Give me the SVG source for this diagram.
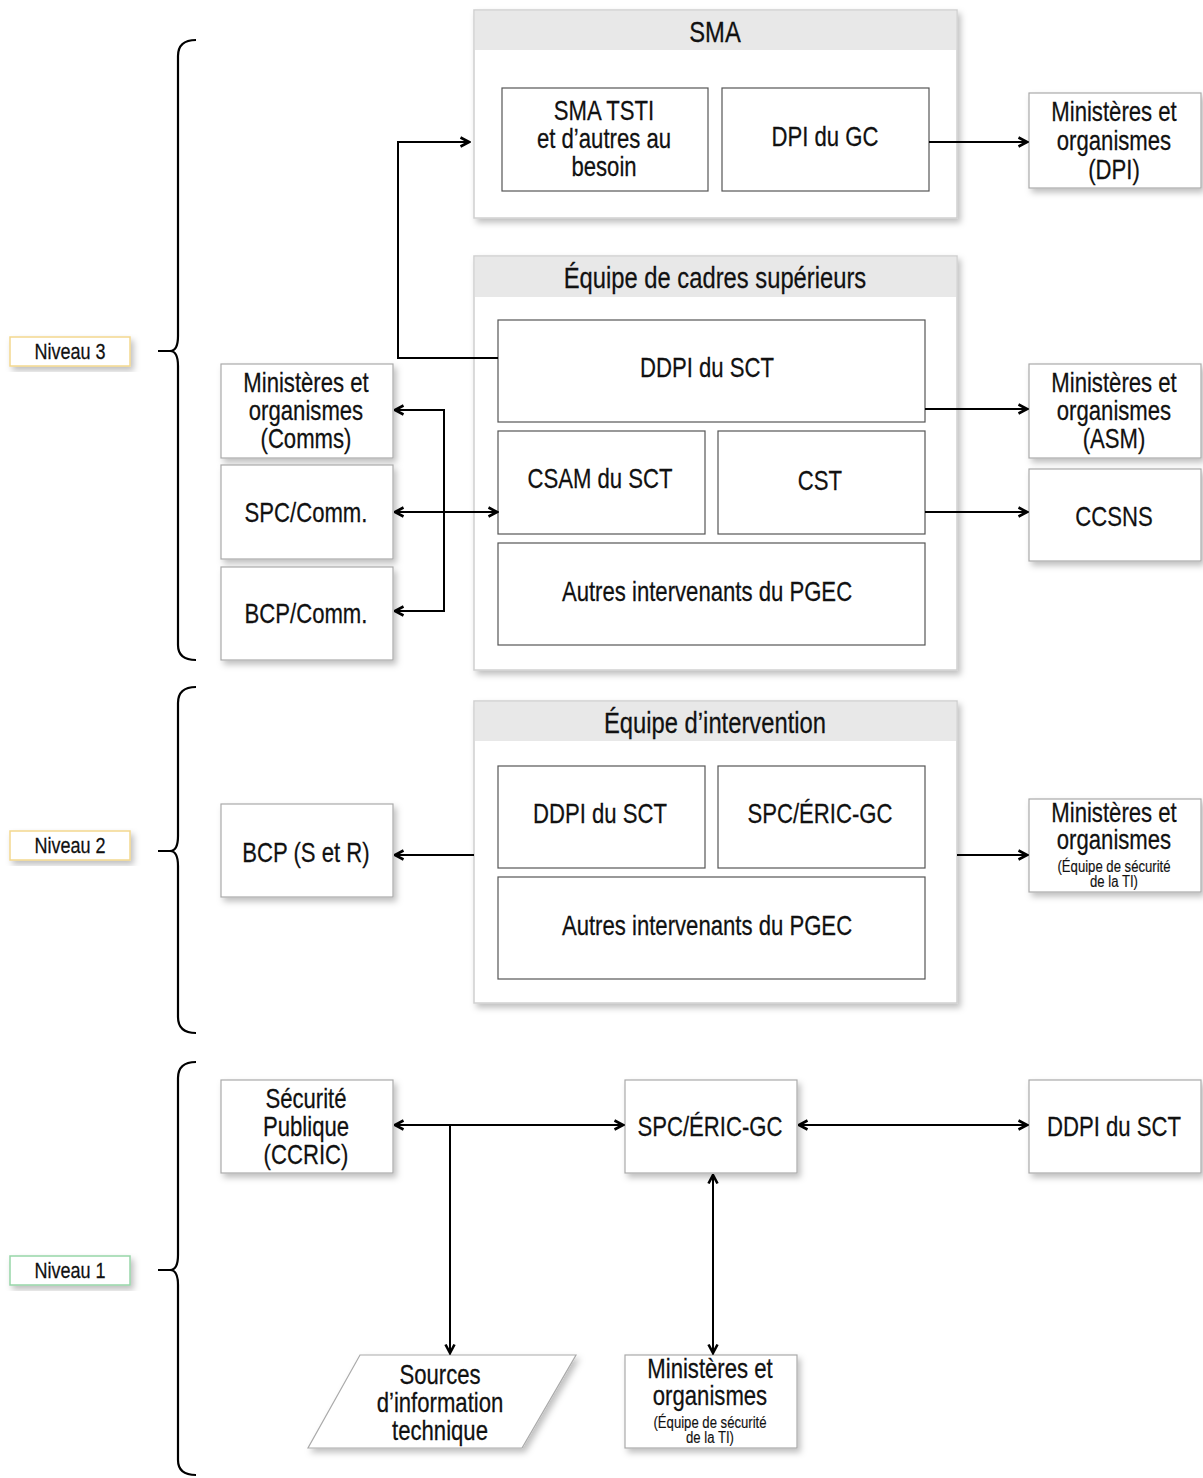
<svg xmlns="http://www.w3.org/2000/svg" width="1203" height="1478" viewBox="0 0 1203 1478">
<defs>
<filter id="sh" x="-10%" y="-10%" width="130%" height="130%">
<feDropShadow dx="3" dy="4" stdDeviation="3" flood-color="#000" flood-opacity="0.25"/>
</filter>
<marker id="ah" viewBox="0 0 12 12" refX="10.5" refY="6" markerWidth="12" markerHeight="12" markerUnits="userSpaceOnUse" orient="auto-start-reverse">
<path d="M2,1.5 L10.5,6 L2,10.5" fill="none" stroke="#000" stroke-width="2.6" stroke-linejoin="miter"/>
</marker>
</defs>
<style>
.outer{fill:#fff;stroke:#d0d0d0;stroke-width:1.5}
.hdr{fill:#e8e8e8}
.box{fill:#fff;stroke:#555;stroke-width:1.2}
.sbox{fill:#fff;stroke:#aaa;stroke-width:1.2}
text{font-family:"Liberation Sans",Arial,sans-serif;font-size:27px;fill:#111;stroke:#111;stroke-width:0.25;text-anchor:middle;transform-box:fill-box;transform-origin:center;transform:scaleX(0.82)}
.hd{font-size:29px}
.sm{font-size:16px;stroke-width:0.15}
.nv{font-size:22px}
.c{fill:none;stroke:#000;stroke-width:2}
.br{fill:none;stroke:#000;stroke-width:2.2}
</style>
<rect width="1203" height="1478" fill="#fff"/>

<!-- Level labels -->
<g id="niveau3"><rect x="10" y="337" width="120" height="29" fill="#fff" stroke="#f3d88e" stroke-width="1.5" filter="url(#sh)"/><text class="nv" x="70" y="359">Niveau 3</text></g>
<g id="niveau2"><rect x="10" y="831" width="120" height="29" fill="#fff" stroke="#f3d88e" stroke-width="1.5" filter="url(#sh)"/><text class="nv" x="70" y="853">Niveau 2</text></g>
<g id="niveau1"><rect x="10" y="1256" width="120" height="29" fill="#fff" stroke="#97d6a8" stroke-width="1.5" filter="url(#sh)"/><text class="nv" x="70" y="1278">Niveau 1</text></g>

<!-- Braces -->
<g id="braces">
<path class="br" d="M196,40 Q178,40 178,56 L178,336 Q178,351 170,351 L158,351 M170,351 Q178,351 178,366 L178,645 Q178,660 196,660"/>
<path class="br" d="M196,687 Q178,687 178,703 L178,836 Q178,851 170,851 L158,851 M170,851 Q178,851 178,866 L178,1017 Q178,1033 196,1033"/>
<path class="br" d="M196,1062 Q178,1062 178,1078 L178,1255 Q178,1270 170,1270 L158,1270 M170,1270 Q178,1270 178,1285 L178,1460 Q178,1475 196,1475"/>
</g>

<!-- SMA -->
<g id="sma">
<rect class="outer" x="474" y="10" width="483" height="208" filter="url(#sh)"/>
<rect class="hdr" x="475" y="11" width="481" height="39"/>
<text class="hd" x="715" y="42">SMA</text>
</g>
<g id="sma-tsti"><rect class="box" x="502" y="88" width="206" height="103"/>
<text x="604" y="120">SMA TSTI</text><text x="604" y="148">et d’autres au</text><text x="604" y="176">besoin</text></g>
<g id="dpi-gc"><rect class="box" x="722" y="88" width="207" height="103"/><text x="825" y="146">DPI du GC</text></g>

<!-- Équipe de cadres supérieurs -->
<g id="ecs">
<rect class="outer" x="474" y="256" width="483" height="414" filter="url(#sh)"/>
<rect class="hdr" x="475" y="257" width="481" height="40"/>
<text class="hd" x="715" y="288">Équipe de cadres supérieurs</text>
</g>
<g id="ddpi-sct-3"><rect class="box" x="498" y="320" width="427" height="102"/><text x="707" y="377">DDPI du SCT</text></g>
<g id="csam"><rect class="box" x="498" y="431" width="207" height="103"/><text x="600" y="488">CSAM du SCT</text></g>
<g id="cst"><rect class="box" x="718" y="431" width="207" height="103"/><text x="820" y="490">CST</text></g>
<g id="autres-3"><rect class="box" x="498" y="543" width="427" height="102"/><text x="707" y="601">Autres intervenants du PGEC</text></g>

<!-- Left level 3 -->
<g id="mo-comms"><rect class="sbox" x="221" y="364" width="172" height="94" filter="url(#sh)"/>
<text x="306" y="392">Ministères et</text><text x="306" y="420">organismes</text><text x="306" y="448">(Comms)</text></g>
<g id="spc-comm"><rect class="sbox" x="221" y="465" width="172" height="94" filter="url(#sh)"/><text x="306" y="522">SPC/Comm.</text></g>
<g id="bcp-comm"><rect class="sbox" x="221" y="567" width="172" height="93" filter="url(#sh)"/><text x="306" y="623">BCP/Comm.</text></g>

<!-- Right level 3 -->
<g id="mo-dpi"><rect class="sbox" x="1029" y="93" width="172" height="95" filter="url(#sh)"/>
<text x="1114" y="121">Ministères et</text><text x="1114" y="150">organismes</text><text x="1114" y="179">(DPI)</text></g>
<g id="mo-asm"><rect class="sbox" x="1029" y="364" width="172" height="94" filter="url(#sh)"/>
<text x="1114" y="392">Ministères et</text><text x="1114" y="420">organismes</text><text x="1114" y="448">(ASM)</text></g>
<g id="ccsns"><rect class="sbox" x="1029" y="469" width="172" height="92" filter="url(#sh)"/><text x="1114" y="526">CCSNS</text></g>

<!-- Équipe d'intervention -->
<g id="ei">
<rect class="outer" x="474" y="701" width="483" height="302" filter="url(#sh)"/>
<rect class="hdr" x="475" y="702" width="481" height="39"/>
<text class="hd" x="715" y="733">Équipe d’intervention</text>
</g>
<g id="ddpi-sct-2"><rect class="box" x="498" y="766" width="207" height="102"/><text x="600" y="823">DDPI du SCT</text></g>
<g id="spc-eric-2"><rect class="box" x="718" y="766" width="207" height="102"/><text x="820" y="823">SPC/ÉRIC-GC</text></g>
<g id="autres-2"><rect class="box" x="498" y="877" width="427" height="102"/><text x="707" y="935">Autres intervenants du PGEC</text></g>
<g id="bcp-sr"><rect class="sbox" x="221" y="804" width="172" height="93" filter="url(#sh)"/><text x="306" y="862">BCP (S et R)</text></g>
<g id="mo-ti-2"><rect class="sbox" x="1029" y="799" width="172" height="93" filter="url(#sh)"/>
<text x="1114" y="822">Ministères et</text><text x="1114" y="849">organismes</text>
<text class="sm" x="1114" y="872">(Équipe de sécurité</text><text class="sm" x="1114" y="887">de la TI)</text></g>

<!-- Level 1 -->
<g id="securite"><rect class="sbox" x="221" y="1080" width="172" height="93" filter="url(#sh)"/>
<text x="306" y="1108">Sécurité</text><text x="306" y="1136">Publique</text><text x="306" y="1164">(CCRIC)</text></g>
<g id="spc-eric-1"><rect class="sbox" x="625" y="1080" width="172" height="93" filter="url(#sh)"/><text x="710" y="1136">SPC/ÉRIC-GC</text></g>
<g id="ddpi-sct-1"><rect class="sbox" x="1029" y="1080" width="172" height="93" filter="url(#sh)"/><text x="1114" y="1136">DDPI du SCT</text></g>
<g id="sources"><path d="M360,1355 L576,1355 L522,1448 L308,1448 Z" fill="#fff" stroke="#aaa" stroke-width="1.2" filter="url(#sh)"/>
<text x="440" y="1384">Sources</text><text x="440" y="1412">d’information</text><text x="440" y="1440">technique</text></g>
<g id="mo-ti-1"><rect class="sbox" x="625" y="1355" width="172" height="93" filter="url(#sh)"/>
<text x="710" y="1378">Ministères et</text><text x="710" y="1405">organismes</text>
<text class="sm" x="710" y="1428">(Équipe de sécurité</text><text class="sm" x="710" y="1443">de la TI)</text></g>

<!-- Connectors -->
<g id="connectors">
<path class="c" d="M498,358 L398,358 L398,142 L469,142" marker-end="url(#ah)"/>
<path class="c" d="M929,142 L1027,142" marker-end="url(#ah)"/>
<path class="c" d="M925,409 L1027,409" marker-end="url(#ah)"/>
<path class="c" d="M925,512 L1027,512" marker-end="url(#ah)"/>
<path class="c" d="M395,512 L497,512" marker-start="url(#ah)" marker-end="url(#ah)"/>
<path class="c" d="M395,410 L444,410 L444,611 L395,611" marker-start="url(#ah)" marker-end="url(#ah)"/>
<path class="c" d="M474,855 L395,855" marker-end="url(#ah)"/>
<path class="c" d="M957,855 L1027,855" marker-end="url(#ah)"/>
<path class="c" d="M395,1125 L623,1125" marker-start="url(#ah)" marker-end="url(#ah)"/>
<path class="c" d="M450,1125 L450,1353" marker-end="url(#ah)"/>
<path class="c" d="M799,1125 L1027,1125" marker-start="url(#ah)" marker-end="url(#ah)"/>
<path class="c" d="M713,1175 L713,1353" marker-start="url(#ah)" marker-end="url(#ah)"/>
</g>
</svg>
